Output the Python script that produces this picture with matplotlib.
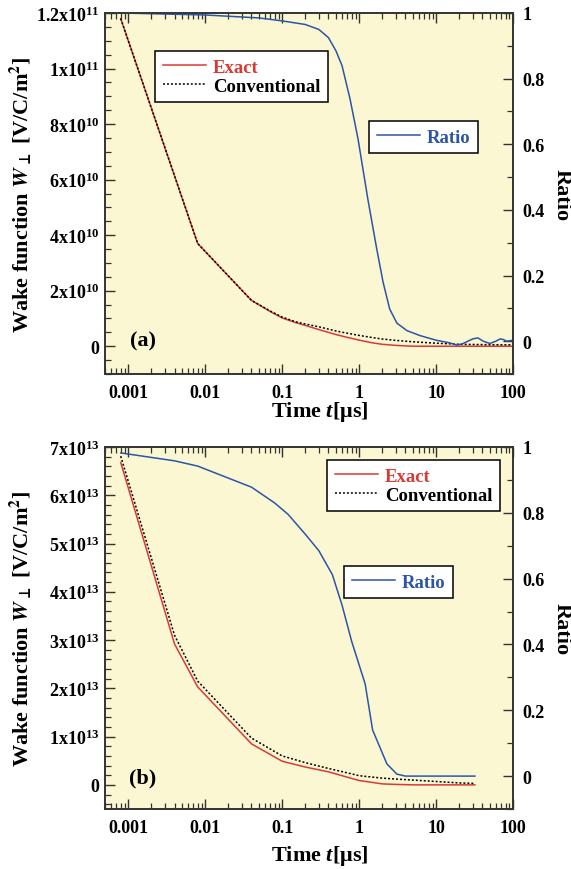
import numpy as np
import matplotlib
matplotlib.use('Agg')
import matplotlib.pyplot as plt
from matplotlib.ticker import LogLocator, NullFormatter, MultipleLocator

# ---------------- data: panel (a) ----------------
t_a_exact = [0.0008, 0.008, 0.04, 0.07, 0.1, 0.15, 0.2, 0.3, 0.5, 0.7, 1.0, 1.5, 2.0, 3.0, 5.0, 10, 30, 100]
w_a_exact = [11.8, 3.7, 1.65, 1.25, 1.02, 0.85, 0.75, 0.6, 0.42, 0.32, 0.22, 0.12, 0.07, 0.03, 0.0, 0.0, 0.0, 0.0]  # x1e10

t_a_conv = [0.0008, 0.008, 0.04, 0.07, 0.1, 0.15, 0.2, 0.3, 0.5, 0.7, 1.0, 1.5, 2.0, 3.0, 5.0, 10, 20, 50, 100]
w_a_conv = [11.8, 3.7, 1.65, 1.27, 1.05, 0.88, 0.8, 0.7, 0.55, 0.47, 0.39, 0.31, 0.26, 0.21, 0.16, 0.11, 0.07, 0.055, 0.05]  # x1e10

t_a_ratio = [0.0008, 0.01, 0.05, 0.1, 0.2, 0.3, 0.4, 0.5, 0.6, 0.76, 0.97, 1.3, 1.7, 2.05, 2.5, 3.1, 4.2, 6.2,
             10, 15, 18.6, 22, 26, 30, 35, 41, 50, 60, 68, 75, 83, 100]
r_a = [1.0, 0.994, 0.985, 0.976, 0.965, 0.95, 0.925, 0.885, 0.84, 0.74, 0.616, 0.433, 0.28, 0.18, 0.098, 0.055,
       0.032, 0.017, 0.003, -0.005, -0.012, -0.008, 0.0, 0.007, 0.01, 0.0, -0.007, 0.0, 0.007, 0.005, 0.0, 0.003]

# ---------------- data: panel (b) ----------------
t_b_exact = [0.0008, 0.004, 0.008, 0.04, 0.1, 0.2, 0.4, 0.7, 1.0, 1.5, 2.0, 3.0, 5.0, 10, 20, 32]
w_b_exact = [6.68, 2.92, 2.03, 0.85, 0.49, 0.37, 0.27, 0.16, 0.09, 0.05, 0.02, 0.01, 0.0, 0.0, 0.0, 0.0]  # x1e13

t_b_conv = [0.0008, 0.004, 0.008, 0.04, 0.1, 0.2, 0.4, 0.7, 1.0, 2.0, 3.0, 5, 10, 20, 32]
w_b_conv = [6.81, 3.1, 2.15, 0.97, 0.6, 0.46, 0.34, 0.25, 0.19, 0.14, 0.12, 0.1, 0.07, 0.04, 0.03]  # x1e13

t_b_ratio = [0.0008, 0.004, 0.008, 0.04, 0.08, 0.12, 0.2, 0.3, 0.45, 0.6, 0.8, 1.2, 1.5, 2.3, 3.1, 4.0, 6, 10, 20, 32]
r_b = [0.982, 0.958, 0.942, 0.878, 0.83, 0.795, 0.735, 0.685, 0.612, 0.52, 0.41, 0.28, 0.14, 0.037, 0.006, 0.0,
       0.0, 0.0, 0.0, 0.0]

x_ticks = [0.001, 0.01, 0.1, 1, 10, 100]
x_labels = ['0.001', '0.01', '0.1', '1', '10', '100']
a_yticks = [0, 2e10, 4e10, 6e10, 8e10, 1e11, 1.2e11]
a_ylabels = ['0', '2x10$^{10}$', '4x10$^{10}$', '6x10$^{10}$', '8x10$^{10}$', '1x10$^{11}$', '1.2x10$^{11}$']
b_yticks = [0, 1e13, 2e13, 3e13, 4e13, 5e13, 6e13, 7e13]
b_ylabels = ['0', '1x10$^{13}$', '2x10$^{13}$', '3x10$^{13}$', '4x10$^{13}$', '5x10$^{13}$', '6x10$^{13}$', '7x10$^{13}$']
r_ticks = [0, 0.2, 0.4, 0.6, 0.8, 1.0]
r_labels = ['0', '0.2', '0.4', '0.6', '0.8', '1']

# ---------------- style ----------------
plt.rcParams['font.family'] = ['Liberation Serif', 'DejaVu Serif']
plt.rcParams['font.weight'] = 'bold'
plt.rcParams['axes.labelweight'] = 'bold'
plt.rcParams['mathtext.fontset'] = 'custom'
plt.rcParams['mathtext.rm'] = 'Liberation Serif:bold'
plt.rcParams['mathtext.bf'] = 'Liberation Serif:bold'
plt.rcParams['mathtext.it'] = 'Liberation Serif:bold:italic'

RED = '#D93A34'
BLUE = '#2B55A8'
BG = '#FAF7D2'
SPINE = '#333333'

W, H = 571, 870
fig = plt.figure(figsize=(W / 100, H / 100), dpi=100)


def make_panel(top_px, bot_px, t_ex, w_ex, scale_ex, t_cv, w_cv, t_r, r, ylim, yticks, ylabels,
               minor_step, tag, leg1_px, leg2_px, xlab_base, ylab_y):
    left_px, right_px = 105, 513
    ax = fig.add_axes([left_px / W, 1 - bot_px / H, (right_px - left_px) / W, (bot_px - top_px) / H])
    ax.set_facecolor(BG)
    ax.set_xscale('log')
    ax.set_xlim(5e-4, 100)
    ax.set_ylim(*ylim)
    l1, = ax.plot(t_ex, np.array(w_ex) * scale_ex, color=RED, lw=1.1, label='Exact', zorder=3)
    l2, = ax.plot(t_cv, np.array(w_cv) * scale_ex, color='black', lw=1.1, ls=(0, (1.3, 1.3)),
                  label='Conventional', zorder=4)
    ax.set_xticks(x_ticks)
    ax.set_xticklabels(x_labels)
    ax.xaxis.set_minor_locator(LogLocator(base=10, subs=np.arange(2, 10), numticks=20))
    ax.xaxis.set_minor_formatter(NullFormatter())
    ax.set_xlim(5e-4, 100)
    ax.set_yticks(yticks)
    ax.set_yticklabels(ylabels)
    ax.yaxis.set_minor_locator(MultipleLocator(minor_step))
    ax.tick_params(axis='both', which='both', direction='in', top=True, right=False, labelsize=13,
                   color=SPINE)
    ax.tick_params(axis='both', which='major', length=7, width=1.0)
    ax.tick_params(axis='both', which='minor', length=4, width=0.9)
    ax.tick_params(axis='x', pad=7)
    ax.tick_params(axis='y', pad=4)
    for s in ax.spines.values():
        s.set_color(SPINE)
        s.set_linewidth(1.2)

    ax2 = ax.twinx()
    ax2.set_ylim(-0.1, 1.0)
    l3, = ax2.plot(t_r, r, color=BLUE, lw=1.1, label='Ratio')
    ax2.set_yticks(r_ticks)
    ax2.set_yticklabels(r_labels)
    ax2.yaxis.set_minor_locator(MultipleLocator(0.1))
    ax2.tick_params(axis='y', which='both', direction='in', right=True, left=False, labelsize=13,
                    color=SPINE, pad=7)
    ax2.tick_params(axis='y', which='major', length=7, width=1.0)
    ax2.tick_params(axis='y', which='minor', length=4, width=0.9)
    for s in ax2.spines.values():
        s.set_color(SPINE)
        s.set_linewidth(1.2)

    axw = right_px - left_px
    axh = bot_px - top_px
    legkw = dict(loc='upper left', borderaxespad=0, frameon=True, fancybox=False, edgecolor='black',
                 framealpha=1, prop={'size': 13.5, 'weight': 'bold'}, handlelength=2.3,
                 handletextpad=0.4, borderpad=0.4, labelspacing=0.1)
    lg1 = ax.legend(handles=[l1, l2], bbox_to_anchor=((leg1_px[0] - left_px) / axw, (bot_px - leg1_px[1]) / axh),
                    **legkw)
    lg1.get_frame().set_linewidth(1.1)
    for txt, col in zip(lg1.get_texts(), [RED, 'black']):
        txt.set_color(col)
    lg2 = ax2.legend(handles=[l3], bbox_to_anchor=((leg2_px[0] - left_px) / axw, (bot_px - leg2_px[1]) / axh),
                     **legkw)
    lg2.get_frame().set_linewidth(1.1)
    lg2.get_texts()[0].set_color(BLUE)

    fig.text(143 / W, 1 - tag[1] / H, tag[0], fontsize=16, fontweight='bold', ha='center', va='center')
    fig.text(320 / W, 1 - xlab_base / H, r'Time $t$[μs]', fontsize=16, fontweight='bold', ha='center',
             va='baseline')
    fig.text(21 / W, 1 - ylab_y / H, r'Wake function $\mathbfit{W}_{\bot}$ [V/C/m$^{\mathbf{2}}$]',
             fontsize=16, fontweight='bold', ha='center', va='center', rotation=90, math_fontfamily='stix')
    fig.text(562 / W, 1 - ylab_y / H, 'Ratio', fontsize=16, fontweight='bold', ha='center', va='center',
             rotation=270)
    return ax, ax2


make_panel(14, 375, t_a_exact, w_a_exact, 1e10, t_a_conv, w_a_conv, t_a_ratio, r_a, (-1e10, 1.2e11),
           a_yticks, a_ylabels, 5e9, ('(a)', 341), (155, 52), (369, 122), 417, 195)
make_panel(448, 810, t_b_exact, w_b_exact, 1e13, t_b_conv, w_b_conv, t_b_ratio, r_b, (-0.5e13, 7e13),
           b_yticks, b_ylabels, 2e12, ('(b)', 778), (327, 461), (344, 567), 861, 629)

fig.savefig('out.png', dpi=100, facecolor='white')
